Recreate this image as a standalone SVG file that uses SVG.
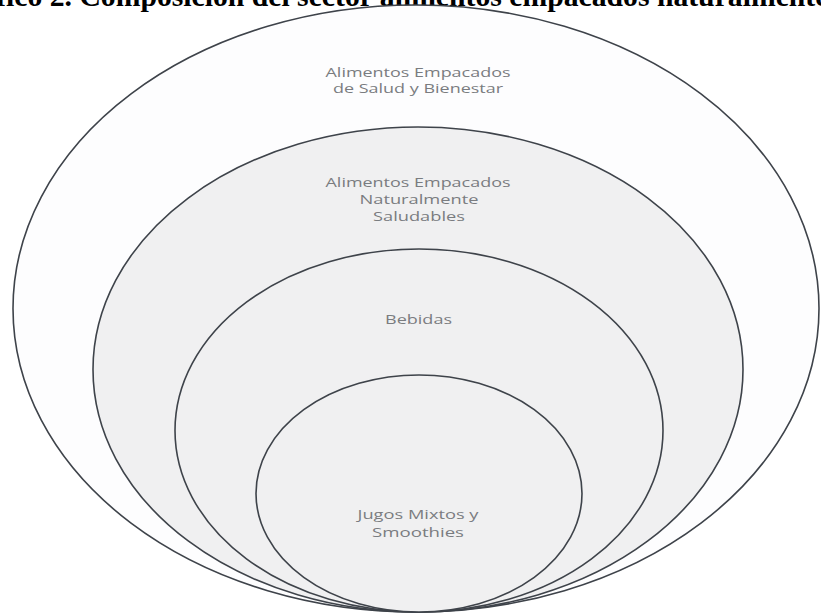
<svg xmlns="http://www.w3.org/2000/svg" width="821" height="614" viewBox="0 0 821 614">
<style>
.ring{stroke:#3e434a;stroke-width:1.6}
.lbl{font-family:"Open Sans","Liberation Sans",sans-serif;font-size:12.5px;fill:#7a7c80;text-anchor:middle}
.title{font-family:"Liberation Serif","Times New Roman",serif;font-weight:bold;font-size:29.7px;fill:#000}
</style>
<rect width="821" height="614" fill="#ffffff"/>
<text class="title" x="-55" y="6">Gráfico 2. Composición del sector alimentos empacados naturalmente</text>
<g id="n1">
<ellipse class="ring" cx="416" cy="308.5" rx="403" ry="303.5" fill="#fdfdfe"/>
<text class="lbl" x="418" y="77" textLength="185" lengthAdjust="spacingAndGlyphs">Alimentos Empacados</text>
<text class="lbl" x="418" y="93" textLength="170" lengthAdjust="spacingAndGlyphs">de Salud y Bienestar</text>
</g>
<g id="n2">
<ellipse class="ring" cx="418" cy="369.5" rx="325" ry="242.5" fill="#f0f0f1"/>
<text class="lbl" x="418" y="187" textLength="185" lengthAdjust="spacingAndGlyphs">Alimentos Empacados</text>
<text class="lbl" x="419" y="204" textLength="119" lengthAdjust="spacingAndGlyphs">Naturalmente</text>
<text class="lbl" x="419" y="221" textLength="92" lengthAdjust="spacingAndGlyphs">Saludables</text>
</g>
<g id="n3">
<ellipse class="ring" cx="419" cy="430.5" rx="244" ry="181.5" fill="#f0f0f1"/>
<text class="lbl" x="418.5" y="324" textLength="67" lengthAdjust="spacingAndGlyphs">Bebidas</text>
</g>
<g id="n4">
<ellipse class="ring" cx="419" cy="493.5" rx="163" ry="118.5" fill="#f0f0f1"/>
<text class="lbl" x="418" y="519" textLength="121" lengthAdjust="spacingAndGlyphs">Jugos Mixtos y</text>
<text class="lbl" x="418" y="537" textLength="92" lengthAdjust="spacingAndGlyphs">Smoothies</text>
</g>
<g id="connectors"/>
</svg>
